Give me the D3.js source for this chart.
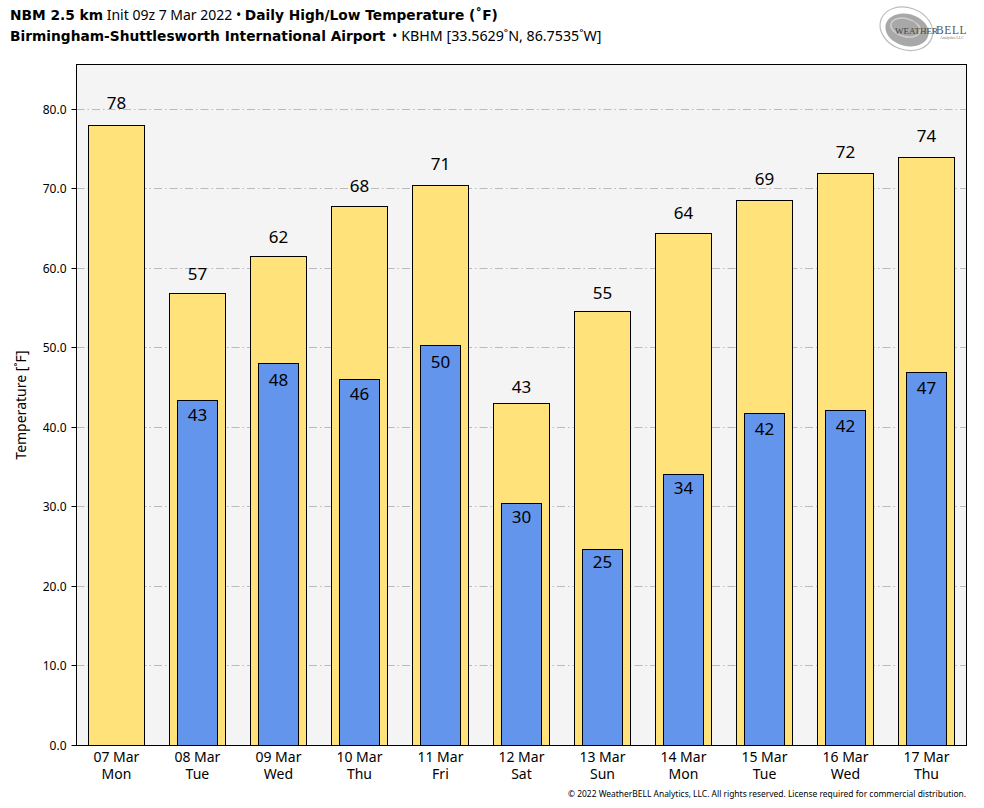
<!DOCTYPE html>
<html lang="en">
<head>
    <meta charset="UTF-8">
    <title>NBM Daily High/Low Temperature</title>
    <script src="https://d3js.org/d3.v7.min.js"></script>
    <style>
        html, body { margin: 0; padding: 0; background: #fff; }
        svg { display: block; }
        text { font-family: "Noto Sans", sans-serif; fill: #000; }
        .title { font-size: 14px; }
        .bold { font-family: "DejaVu Sans", sans-serif; font-weight: bold; font-size: 13.75px; }
        .grid { stroke: #bbb; stroke-width: 1; stroke-dasharray: 8 3 1.5 3; }
        .tick-label { font-size: 12px; }
        .x-label { font-size: 14px; text-anchor: middle; }
        .value { font-size: 17px; text-anchor: middle; }
        .bar { shape-rendering: crispEdges; }
    </style>
</head>
<body>
    <svg width="984" height="808"></svg>
    <script>
        const dates = ["07 Mar", "08 Mar", "09 Mar", "10 Mar", "11 Mar", "12 Mar", "13 Mar", "14 Mar", "15 Mar", "16 Mar", "17 Mar"];
        const days = ["Mon", "Tue", "Wed", "Thu", "Fri", "Sat", "Sun", "Mon", "Tue", "Wed", "Thu"];
        const highs = [78.0, 56.9, 61.5, 67.8, 70.5, 43.0, 54.6, 64.4, 68.6, 72.0, 73.9];
        const lows = [null, 43.4, 48.0, 46.1, 50.3, 30.4, 24.6, 34.1, 41.7, 42.1, 46.9];
        const yTicks = [0, 10, 20, 30, 40, 50, 60, 70, 80];

        const svg = d3.select("svg");
        const plotLeft = 76.5, plotRight = 966.5, plotTop = 64.5, plotBottom = 745.5;

        const x = d3.scaleLinear().domain([-0.5, 10.5]).range([75.9, 967]);
        const y = d3.scaleLinear().domain([0, 85.66]).range([plotBottom, plotTop]);
        const unit = x(1) - x(0);
        const tickY = d => Math.floor(y(d)) + 0.5;

        svg.append("rect").attr("x", plotLeft).attr("y", plotTop)
            .attr("width", plotRight - plotLeft).attr("height", plotBottom - plotTop)
            .attr("fill", "#f4f4f4");

        svg.append("g").selectAll("line").data(yTicks.slice(1)).join("line")
            .attr("class", "grid")
            .attr("x1", plotLeft).attr("x2", plotRight)
            .attr("y1", tickY).attr("y2", tickY);

        svg.append("g").selectAll("rect").data(highs).join("rect")
            .attr("class", "bar")
            .attr("x", (d, i) => x(i) - unit * 0.345)
            .attr("width", unit * 0.69)
            .attr("y", d => y(d))
            .attr("height", d => plotBottom - y(d))
            .attr("fill", "#ffe27a").attr("stroke", "#000").attr("stroke-width", 1);

        const lowData = lows.map((v, i) => ({ v, i })).filter(d => d.v !== null);
        svg.append("g").selectAll("rect").data(lowData).join("rect")
            .attr("class", "bar")
            .attr("x", d => x(d.i) - unit * 0.247)
            .attr("width", unit * 0.494)
            .attr("y", d => y(d.v))
            .attr("height", d => plotBottom - y(d.v))
            .attr("fill", "#6495ed").attr("stroke", "#000").attr("stroke-width", 1);

        // labels sit a bit off the bar, scaled with the value like the original
        svg.append("g").selectAll("text").data(highs).join("text")
            .attr("class", "value").attr("dy", "0.36em")
            .attr("x", (d, i) => x(i))
            .attr("y", d => y(d * 1.02 + 1.27))
            .text(d => Math.round(d));

        svg.append("g").selectAll("text").data(lowData).join("text")
            .attr("class", "value").attr("dy", "0.36em")
            .attr("x", d => x(d.i))
            .attr("y", d => y(d.v * 0.98 - 1))
            .text(d => Math.round(d.v));

        // frame
        svg.append("rect").attr("x", plotLeft).attr("y", plotTop)
            .attr("width", plotRight - plotLeft).attr("height", plotBottom - plotTop)
            .attr("fill", "none").attr("stroke", "#000").attr("stroke-width", 1);

        const yAxis = svg.append("g");
        yAxis.selectAll("line").data(yTicks).join("line")
            .attr("x1", plotLeft - 5).attr("x2", plotLeft)
            .attr("y1", tickY).attr("y2", tickY)
            .attr("stroke", "#000");
        yAxis.selectAll("text").data(yTicks).join("text")
            .attr("class", "tick-label").attr("text-anchor", "end").attr("dy", "0.36em")
            .attr("x", plotLeft - 10).attr("y", d => y(d))
            .text(d3.format(".1f"));

        svg.append("text").style("font-size", "14px")
            .attr("text-anchor", "middle")
            .attr("transform", `translate(26,405) rotate(-90)`)
            .text("Temperature [˚F]");

        // date and weekday share one text so the two lines stay together
        const xLabels = svg.append("g").selectAll("text").data(dates).join("text")
            .attr("class", "x-label")
            .attr("y", 762);
        xLabels.append("tspan")
            .attr("x", (d, i) => x(i))
            .text(d => d);
        xLabels.append("tspan")
            .attr("x", (d, i) => x(i)).attr("dy", 16.5)
            .text((d, i) => days[i]);

        // title lines
        const t1 = svg.append("text").attr("class", "title").attr("x", 10).attr("y", 20);
        t1.append("tspan").attr("class", "bold").text("NBM 2.5 km");
        t1.append("tspan").text(" Init 09z 7 Mar 2022 • ");
        t1.append("tspan").attr("class", "bold").text("Daily High/Low Temperature (˚F)");

        const t2 = svg.append("text").attr("class", "title").attr("x", 10).attr("y", 41);
        t2.append("tspan").attr("class", "bold").text("Birmingham-Shuttlesworth International Airport");
        t2.append("tspan").attr("dx", 3).style("font-size", "14.25px").text(" • KBHM [33.5629˚N, 86.7535˚W]");

        svg.append("text").attr("x", 966).attr("y", 797).attr("text-anchor", "end")
            .style("font-size", "8.45px")
            .text("© 2022 WeatherBELL Analytics, LLC. All rights reserved. License required for commercial distribution.");

        // logo
        const logo = svg.append("g").attr("transform", "translate(907,30)");
        logo.append("ellipse").attr("rx", 22).attr("ry", 16).attr("fill", "#a8a8a8")
            .attr("transform", "rotate(15)");
        logo.append("ellipse").attr("cx", -2).attr("cy", -2).attr("rx", 15).attr("ry", 9)
            .attr("fill", "none").attr("stroke", "#d0d0d0").attr("stroke-width", 1.5)
            .attr("transform", "rotate(15)");
        logo.append("ellipse").attr("cx", -1).attr("cy", -1).attr("rx", 27).attr("ry", 21)
            .attr("fill", "none").attr("stroke", "#bbb").attr("stroke-width", 1.2)
            .attr("transform", "rotate(20)");
        logo.append("text").attr("x", -12).attr("y", 4)
            .style("font-family", "'Liberation Serif', serif").style("font-size", "9px").style("fill", "#444")
            .text("WEATHER");
        logo.append("text").attr("x", 29).attr("y", 4)
            .style("font-family", "'Liberation Serif', serif").style("font-size", "11.5px").style("fill", "#555")
            .style("letter-spacing", "0.6px")
            .text("BELL");
        logo.append("text").attr("x", 33).attr("y", 9)
            .style("font-family", "'Liberation Serif', serif").style("font-size", "4px").style("fill", "#777")
            .text("Analytics LLC");
    </script>
</body>
</html>
